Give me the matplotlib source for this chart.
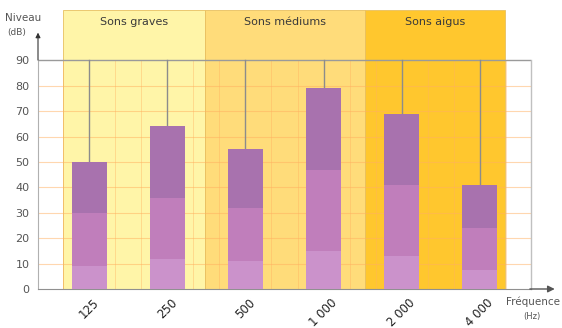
import numpy as np
import matplotlib.pyplot as plt

# sound level per frequency, split in three stacked shades
freq_labels = ["125", "250", "500", "1 000", "2 000", "4 000"]
level_low = [9, 12, 11, 15, 13, 7.5]
level_mid = [30, 36, 32, 47, 41, 24]
level_top = [50, 64, 55, 79, 69, 41]

band_names = ["Sons graves", "Sons médiums", "Sons aigus"]
band_edges = [-0.34, 1.48, 3.53, 5.33]
band_colors = ["#FFF5A8", "#FFDC7A", "#FFC72E"]

x = np.arange(len(freq_labels))
xmin, xmax = -0.66, 5.66
ymax = 109.8

fig = plt.figure(figsize=(5.62, 3.28), dpi=100)
ax = fig.add_axes([38 / 562, 39 / 328, 493 / 562, 279 / 328])
ax.set_xlim(xmin, xmax)
ax.set_ylim(0, ymax)

# frequency bands as coloured columns
for i in range(3):
    ax.axvspan(band_edges[i], band_edges[i + 1], 0, 1, facecolor=band_colors[i],
               edgecolor="#E8C060", lw=0.6, zorder=0)
    ax.text((band_edges[i] + band_edges[i + 1]) / 2, 105, band_names[i],
            ha="center", va="center", fontsize=8, color="#3a3a3a")

# grid
for yv in range(10, 90, 10):
    ax.plot([xmin, xmax], [yv, yv], color="#FFB060", alpha=0.5, lw=0.8, zorder=1)
for k in range(-1, 17):
    xv = k / 3
    if k % 3 != 0:
        ax.plot([xv, xv], [0, 90], color="#FFB060", alpha=0.4, lw=0.7, zorder=1)
ax.plot([xmin, xmax], [90, 90], color="#9a9a9a", lw=1.0, zorder=2)
ax.plot([xmax, xmax], [0, 90], color="#c0c0c0", lw=1.0, zorder=2, clip_on=False)
for xi in x:
    ax.plot([xi, xi], [0, 90], color="#8c8c8c", lw=1.0, zorder=2)

# stacked bars
w = 0.45
ax.bar(x, level_low, w, color="#CB92CB", zorder=3)
ax.bar(x, np.subtract(level_mid, level_low), w, bottom=level_low, color="#C07EBB", zorder=3)
ax.bar(x, np.subtract(level_top, level_mid), w, bottom=level_mid, color="#A872AE", zorder=3)

# axes
for s in ["top", "right"]:
    ax.spines[s].set_visible(False)
ax.spines["left"].set_bounds(0, 90)
ax.spines["left"].set_color("#b0b0b0")
ax.spines["bottom"].set_color("#909090")
ax.annotate("", xy=(6.0, 0), xytext=(xmax - 0.05, 0),
            arrowprops=dict(arrowstyle="-|>", color="#555555", lw=1.0),
            annotation_clip=False)
ax.annotate("", xy=(xmin, 102), xytext=(xmin, 89),
            arrowprops=dict(arrowstyle="-|>", color="#333333", lw=0.8, mutation_scale=7),
            annotation_clip=False)

ax.set_yticks(range(0, 100, 10))
ax.tick_params(axis="y", length=0, labelsize=8, labelcolor="#555555", pad=6)
ax.set_xticks(x)
ax.set_xticklabels(freq_labels, rotation=45, ha="center", fontsize=8.5, color="#222222")
ax.tick_params(axis="x", length=0, pad=5)

fig.text(5 / 562, 1 - 18 / 328, "Niveau", fontsize=7.5, color="#555555", va="center")
fig.text(7 / 562, 1 - 32 / 328, "(dB)", fontsize=6.5, color="#555555", va="center")
fig.text(560 / 562, 1 - 302 / 328, "Fréquence", fontsize=7.5, color="#555555",
         va="center", ha="right")
fig.text(532 / 562, 1 - 316 / 328, "(Hz)", fontsize=6, color="#555555",
         va="center", ha="center")

fig.savefig("out.png", dpi=100)
